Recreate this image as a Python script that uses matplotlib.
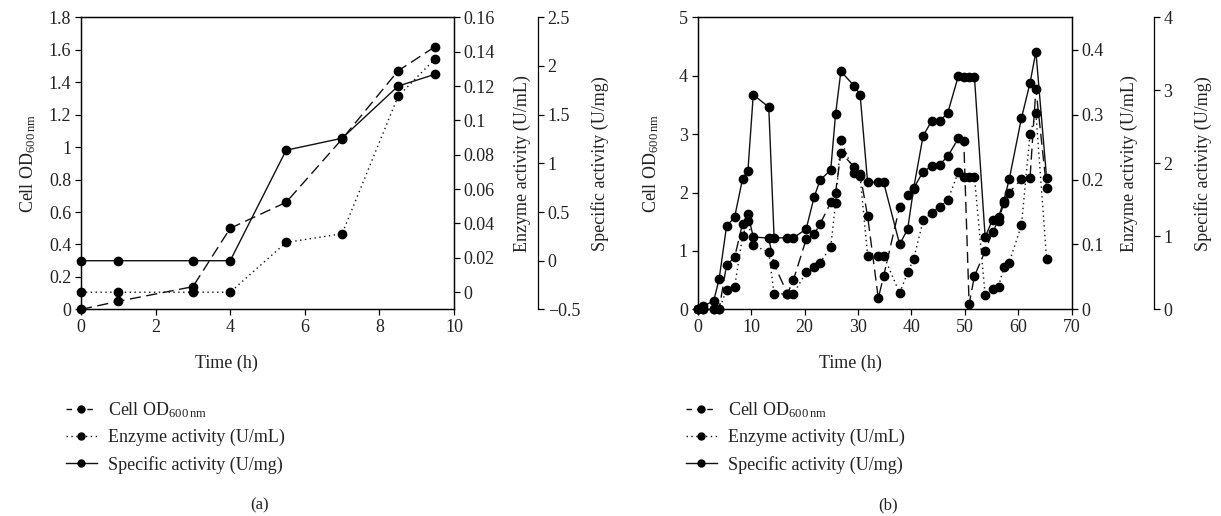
import matplotlib
matplotlib.use("Agg")
import matplotlib.pyplot as plt
from matplotlib.lines import Line2D
from matplotlib.ticker import FixedLocator, FuncFormatter

plt.rcParams['font.family'] = ['Liberation Serif', 'DejaVu Serif']
plt.rcParams['mathtext.fontset'] = 'custom'
plt.rcParams['mathtext.rm'] = 'Liberation Serif'
plt.rcParams['mathtext.it'] = 'Liberation Serif:italic'
plt.rcParams['axes.unicode_minus'] = True

# ---------------- data: panel (a) ----------------
time_a = [0, 1, 3, 4, 5.5, 7, 8.5, 9.5]
od_a = [0, 0.05, 0.14, 0.50, 0.66, 1.05, 1.47, 1.62]
enzyme_a = [0, 0, 0, 0, 0.029, 0.034, 0.114, 0.136]
specific_a = [0, 0, 0, 0, 1.135, 1.258, 1.793, 1.916]

# ---------------- data: panel (b) ----------------
time_b = [0, 1, 3, 4, 5.4, 6.9, 8.4, 9.4, 10.4, 13.3, 14.3, 16.8, 17.9,
          20.3, 21.8, 22.9, 24.9, 25.8, 26.8, 29.3, 30.4, 31.8, 33.8, 34.8,
          37.8, 39.3, 40.4, 42.2, 43.8, 45.3, 46.8, 48.8, 49.8, 50.8, 51.8,
          53.8, 55.2, 56.3, 57.3, 58.3, 60.6, 62.2, 63.3, 65.3]
od_b = [0, 0, 0, 0, 0.76, 0.89, 1.47, 1.63, 1.24, 1.22, 0.77, 0.27, 0.50,
        1.20, 1.29, 1.46, 1.83, 2.00, 2.68, 2.44, 2.31, 1.60, 0.19, 0.57,
        1.76, 1.95, 2.07, 2.36, 2.45, 2.48, 2.62, 2.93, 2.89, 0.09, 0.57,
        1.00, 1.33, 1.52, 1.82, 2.00, 2.23, 2.25, 3.78, 2.07]
enzyme_b = [0, 0, 0, 0, 0.030, 0.034, 0.113, 0.136, 0.099, 0.088, 0.024, 0.024, 0.024,
            0.057, 0.066, 0.072, 0.096, 0.164, 0.261, 0.210, 0.205, 0.083, 0.083, 0.083,
            0.025, 0.057, 0.077, 0.137, 0.149, 0.158, 0.168, 0.212, 0.204, 0.204, 0.204,
            0.022, 0.032, 0.035, 0.065, 0.072, 0.130, 0.270, 0.302, 0.078]
specific_b = [0, 0.04, 0.12, 0.41, 1.14, 1.26, 1.79, 1.90, 2.94, 2.77, 0.98, 0.98, 0.98,
              1.10, 1.54, 1.77, 1.91, 2.67, 3.26, 3.06, 2.94, 1.74, 1.74, 1.74,
              0.89, 1.10, 1.65, 2.38, 2.58, 2.58, 2.69, 3.20, 3.18, 3.18, 3.18,
              0.99, 1.23, 1.26, 1.49, 1.78, 2.62, 3.10, 3.53, 1.80]

# ---------------- axis settings ----------------
xticks_a = [0, 2, 4, 6, 8, 10]
yticks_a = [0, 0.2, 0.4, 0.6, 0.8, 1.0, 1.2, 1.4, 1.6, 1.8]
enz_ticks_a = [0, 0.02, 0.04, 0.06, 0.08, 0.10, 0.12, 0.14, 0.16]
spec_ticks_a = [-0.5, 0, 0.5, 1, 1.5, 2, 2.5]
xticks_b = [0, 10, 20, 30, 40, 50, 60, 70]
yticks_b = [0, 1, 2, 3, 4, 5]
enz_ticks_b = [0, 0.1, 0.2, 0.3, 0.4]
spec_ticks_b = [0, 1, 2, 3, 4]

label_od = r'Cell OD$_{600\,\mathrm{nm}}$'
label_enz = 'Enzyme activity (U/mL)'
label_spec = 'Specific activity (U/mg)'

FS = 13
TXT = '#222222'
W, H = 1221, 516
PX2PT = 72 / 100


def fmt(v, pos=None):
    s = ('%.2f' % v).rstrip('0').rstrip('.')
    if s == '-0':
        s = '0'
    return s.replace('-', '\u2212')


fig = plt.figure(figsize=(W / 100, H / 100), dpi=100)

DASH = (0, (8, 4))
DOT = (0, (1, 2.5))


def style_axis(a, which):
    a.tick_params(axis=which, direction='out', length=4, width=0.9,
                  labelsize=FS, colors='black', labelcolor=TXT, pad=3)


def make_panel(left_px, right_px, outward_px, t, od, enz, spec,
               xlim, xt, ylim, yt, elim, et, slim, st,
               lab_x, enz_x, spec_x):
    top_px, bot_px = 17.3, 309.4
    ax = fig.add_axes([left_px / W, 1 - bot_px / H,
                       (right_px - left_px) / W, (bot_px - top_px) / H])
    ax2 = ax.twinx()
    ax3 = ax.twinx()
    ax3.spines['right'].set_position(('outward', outward_px * PX2PT))
    for s in ['top', 'left', 'bottom']:
        ax3.spines[s].set_visible(False)
    for a in (ax, ax2, ax3):
        for sp in a.spines.values():
            sp.set_linewidth(0.9)
    lc = '#111111'
    ax.plot(t, od, color=lc, lw=1.0, ls=DASH, marker='o', ms=6,
            mfc='black', mec='black', clip_on=False, zorder=3)
    ax2.plot(t, enz, color=lc, lw=1.0, ls=DOT, marker='o', ms=6,
             mfc='black', mec='black', clip_on=False, zorder=3)
    ax3.plot(t, spec, color=lc, lw=1.0, ls='-', marker='o', ms=6,
             mfc='black', mec='black', clip_on=False, zorder=3)
    ax.set_xlim(*xlim)
    ax.set_xticks(xt)
    ax.set_ylim(*ylim)
    ax.yaxis.set_major_locator(FixedLocator(yt))
    ax.yaxis.set_major_formatter(FuncFormatter(fmt))
    ax.xaxis.set_major_formatter(FuncFormatter(fmt))
    ax2.set_ylim(*elim)
    ax2.yaxis.set_major_locator(FixedLocator(et))
    ax2.yaxis.set_major_formatter(FuncFormatter(fmt))
    ax3.set_ylim(*slim)
    ax3.yaxis.set_major_locator(FixedLocator(st))
    ax3.yaxis.set_major_formatter(FuncFormatter(fmt))
    style_axis(ax, 'both')
    style_axis(ax2, 'y')
    style_axis(ax3, 'y')
    w = right_px - left_px
    ax.set_ylabel(label_od, fontsize=FS, color=TXT)
    ax.yaxis.set_label_coords((lab_x - left_px) / w, 0.5)
    ax2.set_ylabel(label_enz, fontsize=FS, color=TXT)
    ax2.yaxis.set_label_coords((enz_x - left_px) / w, 0.5)
    ax3.set_ylabel(label_spec, fontsize=FS, color=TXT)
    ax3.yaxis.set_label_coords((spec_x - left_px) / w, 0.5)
    return ax


make_panel(81, 454, 84, time_a, od_a, enzyme_a, specific_a,
           (0, 10), xticks_a, (0, 1.8), yticks_a,
           (-0.01, 0.16), enz_ticks_a, (-0.5, 2.5), spec_ticks_a,
           38, 514, 591)
make_panel(697.7, 1071.7, 82, time_b, od_b, enzyme_b, specific_b,
           (0, 70), xticks_b, (0, 5), yticks_b,
           (0, 0.45), enz_ticks_b, (0, 4), spec_ticks_b,
           661, 1121, 1194)

# x labels and panel letters
fig.text(226 / W, 1 - 363 / H, 'Time (h)', ha='center', va='center', fontsize=FS, color=TXT)
fig.text(850 / W, 1 - 363 / H, 'Time (h)', ha='center', va='center', fontsize=FS, color=TXT)
fig.text(260 / W, 1 - 505 / H, '(a)', ha='center', va='center', fontsize=FS - 1, color=TXT)
fig.text(888 / W, 1 - 505 / H, '(b)', ha='center', va='center', fontsize=FS - 1, color=TXT)

labels = [label_od, label_enz, label_spec]
handles = [
    Line2D([], [], color='#111111', lw=1.0, ls=(0, (4, 3.5)), marker='o', ms=5,
           mfc='black', mec='black'),
    Line2D([], [], color='#111111', lw=1.0, ls=(0, (1, 2.5)), marker='o', ms=5,
           mfc='black', mec='black'),
    Line2D([], [], color='#111111', lw=1.0, ls='-', marker='o', ms=5,
           mfc='black', mec='black'),
]
for x0 in (66, 686):
    fig.legend(handles, labels, loc='upper left', bbox_to_anchor=(x0 / W, 1 - 400 / H),
               frameon=False, fontsize=FS, handlelength=1.7, handletextpad=0.6,
               borderpad=0, borderaxespad=0, labelspacing=0.52,
               labelcolor=TXT)

fig.savefig('out.png', dpi=100)
